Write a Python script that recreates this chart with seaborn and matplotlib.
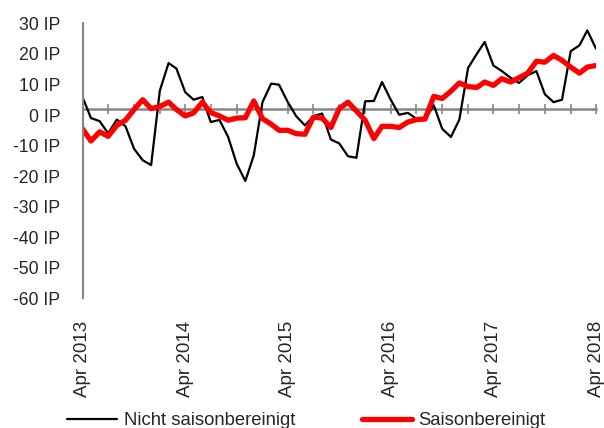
import matplotlib
matplotlib.use("Agg")
import matplotlib.pyplot as plt
import matplotlib.dates as mdates
import matplotlib.ticker as mticker
import numpy as np
import pandas as pd
import seaborn as sns

# Monatswerte Apr 2013 .. Apr 2018 (Indexpunkte)
months = pd.date_range("2013-04-01", periods=61, freq="MS")

nicht_sb = [
    5.9, -1.0, -2.0, -6.0, -1.5, -3.7, -11.0, -14.8, -16.4, 8.0,
    17.0, 15.2, 7.5, 5.0, 5.9, -2.3, -1.6, -7.2, -15.9, -21.6,
    -13.2, 4.2, 10.3, 9.9, 4.2, -0.4, -3.4, -0.4, 0.5, -8.0,
    -9.3, -13.5, -14.0, 4.5, 4.6, 10.8, 5.0, 0.1, 0.7, -1.2,
    -1.5, 3.2, -4.5, -7.2, -1.5, 15.4, 20.0, 23.9, 16.2, 14.4,
    12.2, 10.5, 13.0, 14.4, 6.8, 4.2, 5.0, 20.9, 22.8, 27.7,
    21.7,
]
saison_sb = [
    -4.5, -8.5, -5.5, -7.0, -3.4, -1.7, 1.8, 5.0, 2.1, 2.8,
    4.2, 1.8, -0.3, 0.7, 4.2, 0.8, -0.3, -1.7, -1.0, -0.9,
    4.6, -1.2, -3.0, -5.0, -5.0, -6.1, -6.3, -0.7, -1.0, -4.1,
    2.1, 4.2, 1.3, -1.7, -7.7, -3.7, -3.7, -4.1, -2.3, -1.5,
    -1.3, 6.1, 5.4, 7.8, 10.5, 9.3, 9.0, 10.8, 9.7, 11.9,
    10.8, 12.2, 13.7, 17.6, 17.3, 19.5, 17.9, 15.7, 13.7, 15.7,
    16.2,
]
y_ticks = list(range(-60, 31, 10))
axis_cross = 2  # horizontale Achse schneidet bei ca. 2 IP

df = pd.DataFrame({"Monat": months, "nicht": nicht_sb, "saison": saison_sb})

sns.set_style("white")
plt.rcParams["font.family"] = ["Liberation Sans", "DejaVu Sans"]
plt.rcParams["font.size"] = 12

GRAU = "#868686"

fig = plt.figure(figsize=(6.04, 4.28), dpi=100)
ax = fig.add_axes([0.1366, 0.303, 0.8502, 0.6424])

sns.lineplot(data=df, x="Monat", y="nicht", ax=ax, color="black",
             linewidth=1.6, label="Nicht saisonbereinigt", legend=False)
sns.lineplot(data=df, x="Monat", y="saison", ax=ax, color="#ff0000",
             linewidth=3.8, label="Saisonbereinigt", legend=False)

ax.set_xlim(months[0], months[-1])
ax.set_ylim(y_ticks[0], y_ticks[-1])
ax.set_xlabel("")
ax.set_ylabel("")

# y-Achse
ax.set_yticks(y_ticks)
ax.yaxis.set_major_formatter(mticker.FuncFormatter(lambda v, _: f"{int(v)} IP"))
ax.tick_params(axis="y", direction="in", length=4, width=1.2, color=GRAU,
               pad=16, labelsize=12.7)
for s in ["top", "right", "bottom"]:
    ax.spines[s].set_visible(False)
ax.spines["left"].set_color(GRAU)
ax.spines["left"].set_linewidth(1.5)

# x-Beschriftung unten
ax.xaxis.set_major_locator(mdates.MonthLocator(bymonth=4))
ax.xaxis.set_major_formatter(mdates.DateFormatter("%b %Y"))
ax.tick_params(axis="x", length=0, pad=16, labelsize=13.5, labelrotation=90)

# horizontale Achse mit Quartalsstrichen bei y = axis_cross
sec = ax.secondary_xaxis(axis_cross, transform=ax.transData)
sec.xaxis.set_major_locator(mdates.MonthLocator(bymonth=[1, 4, 7, 10]))
sec.tick_params(axis="x", direction="inout", length=7, width=1.2,
                color=GRAU, labelbottom=False, labeltop=False)
for s in ["top", "bottom"]:
    sec.spines[s].set_color(GRAU)
    sec.spines[s].set_linewidth(1.8)
for s in ["left", "right"]:
    sec.spines[s].set_visible(False)

handles, labels = ax.get_legend_handles_labels()
fig.legend(handles, labels, loc="center left", bbox_to_anchor=(0.111, 0.017),
           ncol=2, frameon=False, fontsize=13.3, handlelength=2.7,
           handletextpad=0.38, columnspacing=3.6, borderpad=0,
           borderaxespad=0)

fig.savefig("out.png", dpi=100)
